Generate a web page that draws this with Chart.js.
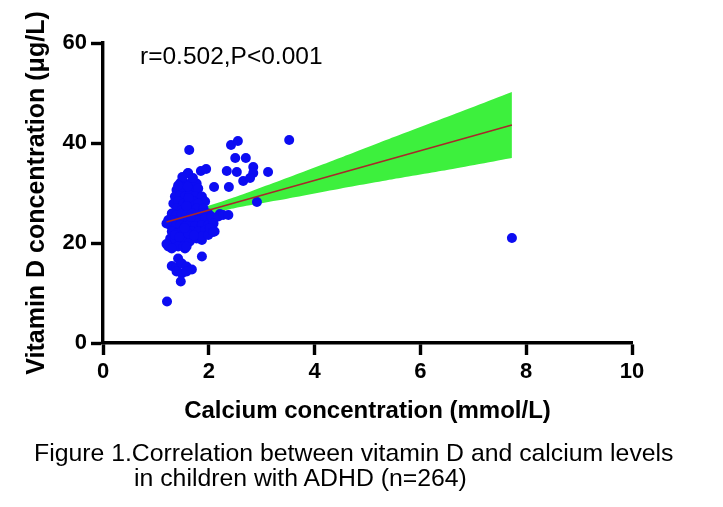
<!DOCTYPE html>
<html>
<head>
<meta charset="utf-8">
<script src="https://cdn.jsdelivr.net/npm/chart.js@4.4.1/dist/chart.umd.min.js"></script>
<style>
  html, body { margin: 0; padding: 0; background: #fff; }
  #wrap { position: relative; width: 723px; height: 507px; overflow: hidden; }
  canvas { position: absolute; left: 0; top: 0; }
  .txt { position: absolute; font-family: 'Liberation Sans', Arial, sans-serif; color: #000; white-space: nowrap; }
</style>
</head>
<body>
<div id="wrap">
  <canvas id="c" width="723" height="507"></canvas>
  <div class="txt" style="left:140px; top:44.3px; font-size:24.5px; line-height:24.5px;">r=0.502,P&lt;0.001</div>
  <div class="txt" style="left:34px; top:440.7px; font-size:24.8px; line-height:24.8px;">Figure 1.Correlation between vitamin D and calcium levels</div>
  <div class="txt" style="left:134px; top:465.5px; font-size:24.8px; line-height:24.8px;">in children with ADHD (n=264)</div>
</div>
<script>
// Calcium (mmol/L) and Vitamin D (µg/L) per child
const calciumValues = [
  1.63, 3.52, 2.42, 2.55, 2.50, 2.70, 1.61, 1.85, 1.95, 2.34, 2.53, 2.84, 2.84, 3.12, 2.65, 2.78, 2.38, 2.10, 2.91, 2.21, 7.73,
  1.60,
  1.46, 1.55, 1.68, 1.77,
  1.39, 1.49, 1.58, 1.68, 1.80,
  1.36, 1.46, 1.55, 1.64, 1.74, 1.87,
  1.93,
  1.33, 1.42, 1.52, 1.61, 1.71, 1.80,
  1.39, 1.49, 1.58, 1.68, 1.77, 1.90,
  1.30, 1.39, 1.49, 1.58, 1.68, 1.77, 1.87, 1.99,
  1.235, 1.33, 1.42, 1.52, 1.61, 1.71, 1.80, 1.93, 2.05, 2.18, 2.27, 2.37,
  1.27, 1.36, 1.46, 1.55, 1.64, 1.74, 1.87, 1.99, 2.09, 1.20,
  1.30, 1.39, 1.49, 1.58, 1.68, 1.80, 1.93, 2.05,
  1.27, 1.36, 1.46, 1.55, 1.64, 1.77, 1.87,
  1.235, 1.42, 1.55,
  1.20, 1.30, 1.52, 1.58, 1.42, 1.87, 1.30, 1.39, 1.49, 1.58, 1.68, 1.39, 1.49, 1.58, 1.47, 1.21,
  1.36, 1.61, 1.87, 1.99, 2.11,
  1.50, 1.62, 1.58, 1.66, 1.54, 1.72, 1.44, 1.60, 1.70, 1.50, 1.42, 2.02, 2.08
];
const vitaminDValues = [
  38.6, 40.6, 39.6, 40.4, 37.0, 37.0, 34.0, 34.4, 34.8, 34.4, 34.2, 35.2, 34.0, 34.2, 32.4, 33.0, 31.2, 31.2, 28.2, 25.8, 21.0,
  33.9,
  32.0, 31.9, 32.3, 31.9,
  30.6, 30.9, 30.6, 30.6, 30.9,
  29.3, 29.6, 29.3, 29.6, 29.3, 29.3,
  28.3,
  27.9, 28.3, 27.9, 27.9, 28.3, 27.9,
  26.9, 26.6, 26.9, 26.6, 26.9, 26.9,
  25.9, 25.6, 25.9, 25.6, 25.9, 25.6, 25.9, 25.9,
  24.6, 24.6, 24.3, 24.6, 24.3, 24.6, 24.6, 24.9, 25.3, 25.3, 25.6, 25.6,
  23.6, 23.3, 23.6, 23.3, 23.6, 23.3, 23.6, 23.6, 23.9, 23.9,
  22.3, 21.9, 22.3, 21.9, 22.3, 22.3, 22.6, 22.3,
  20.9, 20.3, 20.9, 20.6, 20.3, 20.9, 20.6,
  19.3, 19.3, 18.9,
  19.8, 18.9, 19.3, 19.3, 16.9, 17.3, 15.4, 15.1, 15.9, 15.3, 14.7, 14.3, 13.9, 14.3, 12.3, 8.3,
  21.6, 21.9, 21.3, 21.6, 22.3,
  31.2, 29.0, 27.4, 25.2, 23.0, 21.5, 21.2, 31.3, 33.0, 33.2, 31.5, 23.0, 22.2
];

// 95% confidence band and fitted regression line
const bandX = [1.2, 1.7, 2.5, 3.5, 4.5, 5.5, 6.5, 7.73];
const bandUpper = [25.4, 26.5, 29.2, 33.1, 37.1, 41.2, 45.2, 50.2];
const bandLower = [23.0, 24.9, 27.0, 28.9, 30.9, 32.8, 34.6, 37.0];
const fitX = [1.2, 7.73];
const fitY = [24.2, 43.6];

// Axis ticks
const xTicks = [0, 2, 4, 6, 8, 10];
const yTicks = [0, 20, 40, 60];

const FONT = "'Liberation Sans', Arial, Helvetica, sans-serif";

const pts = calciumValues.map((x, i) => ({ x: x, y: vitaminDValues[i] }));
const upper = bandX.map((x, i) => ({ x: x, y: bandUpper[i] }));
const lower = bandX.map((x, i) => ({ x: x, y: bandLower[i] }));
const fit = fitX.map((x, i) => ({ x: x, y: fitY[i] }));

const axisCommon = {
  type: 'linear',
  grid: { drawOnChartArea: false, drawTicks: true, tickLength: 12, tickWidth: 3.4, tickColor: '#000', color: '#000' },
  border: { display: true, width: 3.4, color: '#000' },
};

new Chart(document.getElementById('c'), {
  type: 'scatter',
  data: {
    datasets: [
      { type: 'line', data: upper, fill: '+1', backgroundColor: '#3df03d', borderWidth: 0, borderColor: 'rgba(0,0,0,0)', pointRadius: 0, order: 3, tension: 0.2 },
      { type: 'line', data: lower, fill: false, borderWidth: 0, borderColor: 'rgba(0,0,0,0)', pointRadius: 0, order: 3, tension: 0.2 },
      { type: 'scatter', data: pts, backgroundColor: '#0c0cf2', borderWidth: 0, pointRadius: 5, order: 2 },
      { type: 'line', data: fit, borderColor: '#a8282a', borderWidth: 1.6, pointRadius: 0, fill: false, order: 1 }
    ]
  },
  options: {
    responsive: false,
    animation: false,
    events: [],
    layout: { padding: { left: 0, right: 91, top: 43, bottom: 80 } },
    plugins: { legend: { display: false }, tooltip: { enabled: false } },
    scales: {
      x: Object.assign({}, axisCommon, {
        min: 0, max: 10,
        afterBuildTicks: (s) => { s.ticks = xTicks.map(v => ({ value: v })); },
        afterFit: (s) => { s.height = 84; },
        ticks: { color: '#000', padding: 4, font: { family: FONT, size: 22, weight: 'bold' } },
        title: { display: true, text: 'Calcium concentration (mmol/L)', color: '#000', padding: { top: 0, bottom: 1.6 }, font: { family: FONT, size: 24, weight: 'bold' } }
      }),
      y: Object.assign({}, axisCommon, {
        min: 0, max: 60,
        afterBuildTicks: (s) => { s.ticks = yTicks.map(v => ({ value: v })); },
        afterFit: (s) => { s.width = 103; },
        ticks: { color: '#000', padding: 4, font: { family: FONT, size: 22, weight: 'bold' } },
        title: { display: true, text: 'Vitamin D concentration (μg/L)', color: '#000', padding: { top: 22, bottom: 0 }, font: { family: FONT, size: 25, weight: 'bold' } }
      })
    }
  }
});
</script>
</body>
</html>
